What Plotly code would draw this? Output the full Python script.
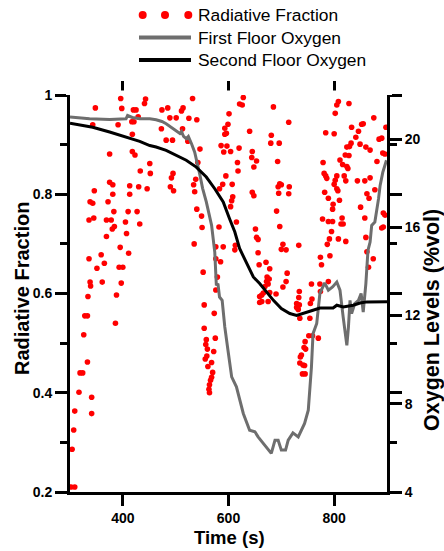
import plotly.graph_objects as go

# ---- data -------------------------------------------------------------
# Radiative fraction samples (time in s, fraction)
rf_time = [
    396, 443, 441, 532, 348, 398, 420, 425, 474, 485, 514, 511, 429, 489, 501, 525, 540, 417, 421, 391,
    343, 473, 513, 482, 494, 523, 546, 418, 423, 375, 451, 542, 433, 452, 495, 492, 375, 381, 413, 430,
    538, 534, 490, 496, 446, 346, 381, 413, 536, 338, 343, 372, 427, 410, 383, 540, 345, 336, 369, 378,
    405, 432, 550, 380, 384, 407, 369, 395, 535, 411, 359, 336, 365, 351, 393, 400, 552, 338, 361, 397,
    339, 334, 388, 554, 328, 333, 386, 573, 554, 326, 558, 557, 560, 575, 572, 559, 556, 568, 561, 333,
    319, 324, 570, 568, 566, 564, 563, 564, 317, 341, 341, 309, 307, 304, 302, 309, 628, 621, 626, 685,
    808, 805, 828, 802, 601, 875, 714, 599, 593, 855, 852, 833, 640, 596, 593, 784, 800, 846, 681, 841,
    885, 680, 696, 832, 829, 824, 849, 860, 868, 586, 597, 620, 591, 604, 645, 644, 653, 648, 821, 828,
    811, 816, 881, 779, 617, 693, 824, 826, 618, 595, 781, 784, 805, 819, 868, 786, 802, 822, 844, 858,
    800, 697, 700, 694, 715, 695, 714, 645, 648, 589, 607, 583, 782, 805, 807, 877, 862, 866, 608, 606,
    789, 810, 604, 798, 797, 850, 691, 549, 778, 789, 797, 815, 858, 615, 813, 817, 582, 651, 697, 795,
    653, 656, 791, 808, 822, 860, 576, 590, 613, 612, 733, 703, 787, 700, 709, 656, 792, 774, 874, 576,
    585, 658, 671, 776, 678, 865, 579, 673, 677, 711, 709, 789, 757, 773, 576, 672, 675, 669, 703, 666,
    663, 659, 678, 690, 734, 774, 663, 659, 675, 733, 758, 729, 734, 755, 729, 732, 735, 754, 752, 759,
    770, 745, 743, 746, 738, 736, 735, 741, 744, 740, 745, 898, 890, 892, 896, 893, 896, 890, 893, 862,
    418,
]
rf_value = [
    0.993, 0.992, 0.983, 0.993, 0.974, 0.973, 0.970, 0.970, 0.970, 0.974, 0.974, 0.968, 0.956, 0.954, 0.954, 0.953, 0.950, 0.946, 0.946, 0.940,
    0.940, 0.932, 0.932, 0.909, 0.909, 0.907, 0.891, 0.886, 0.879, 0.881, 0.862, 0.864, 0.847, 0.842, 0.842, 0.833, 0.824, 0.819, 0.817, 0.815,
    0.830, 0.819, 0.815, 0.807, 0.811, 0.807, 0.800, 0.800, 0.805, 0.785, 0.782, 0.785, 0.765, 0.765, 0.765, 0.770, 0.752, 0.748, 0.748, 0.748,
    0.744, 0.740, 0.733, 0.730, 0.735, 0.721, 0.715, 0.693, 0.700, 0.681, 0.678, 0.670, 0.661, 0.651, 0.653, 0.653, 0.643, 0.623, 0.623, 0.621,
    0.615, 0.594, 0.597, 0.577, 0.555, 0.555, 0.540, 0.560, 0.530, 0.517, 0.507, 0.497, 0.488, 0.510, 0.483, 0.474, 0.468, 0.461, 0.453, 0.462,
    0.440, 0.440, 0.441, 0.431, 0.425, 0.416, 0.407, 0.400, 0.401, 0.391, 0.358, 0.363, 0.325, 0.286, 0.210, 0.210, 0.995, 0.982, 0.980, 0.976,
    0.987, 0.980, 0.983, 0.963, 0.962, 0.954, 0.945, 0.941, 0.933, 0.942, 0.941, 0.935, 0.927, 0.923, 0.921, 0.924, 0.922, 0.927, 0.919, 0.915,
    0.911, 0.903, 0.903, 0.903, 0.896, 0.895, 0.901, 0.895, 0.889, 0.898, 0.897, 0.893, 0.885, 0.886, 0.886, 0.874, 0.867, 0.855, 0.879, 0.878,
    0.869, 0.860, 0.866, 0.864, 0.864, 0.866, 0.856, 0.852, 0.847, 0.837, 0.842, 0.837, 0.837, 0.837, 0.833, 0.832, 0.828, 0.827, 0.827, 0.827,
    0.820, 0.821, 0.819, 0.815, 0.815, 0.802, 0.801, 0.804, 0.797, 0.820, 0.820, 0.811, 0.804, 0.811, 0.807, 0.809, 0.801, 0.792, 0.795, 0.787,
    0.792, 0.788, 0.775, 0.780, 0.770, 0.774, 0.766, 0.756, 0.750, 0.745, 0.745, 0.752, 0.752, 0.744, 0.740, 0.740, 0.734, 0.730, 0.735, 0.725,
    0.713, 0.709, 0.710, 0.710, 0.705, 0.713, 0.694, 0.694, 0.697, 0.688, 0.697, 0.699, 0.699, 0.689, 0.688, 0.682, 0.676, 0.673, 0.670, 0.670,
    0.664, 0.658, 0.663, 0.658, 0.650, 0.653, 0.633, 0.633, 0.629, 0.641, 0.624, 0.624, 0.619, 0.619, 0.607, 0.624, 0.619, 0.614, 0.613, 0.601,
    0.597, 0.594, 0.602, 0.599, 0.604, 0.604, 0.584, 0.582, 0.584, 0.592, 0.589, 0.580, 0.577, 0.580, 0.572, 0.568, 0.550, 0.550, 0.515, 0.515,
    0.510, 0.503, 0.491, 0.488, 0.476, 0.472, 0.460, 0.456, 0.455, 0.438, 0.438, 0.935, 0.913, 0.883, 0.881, 0.762, 0.758, 0.732, 0.734, 0.684,
    0.921,
]

# First floor oxygen (%vol)
o2_first_time = [
    300, 337, 375, 406, 409, 418, 432, 451, 463, 474, 482, 492, 501, 508, 511, 515, 520, 524, 530, 536,
    546, 551, 558, 568, 574, 577, 580, 583, 588, 593, 599, 606, 615, 628, 640, 650, 656, 672, 681, 688,
    694, 700, 708, 713, 722, 732, 744, 751, 757, 760, 767, 773, 782, 789, 797, 805, 811, 817, 824, 827,
    830, 833, 839, 846, 851, 855, 860, 864, 868, 871, 877, 884, 887, 892, 899,
]
o2_first = [
    21.00, 20.92, 20.89, 20.92, 21.07, 20.98, 20.92, 20.92, 20.88, 20.80, 20.70, 20.53, 20.39, 20.26, 20.35, 20.12, 20.02, 20.12, 19.79, 19.41,
    18.36, 17.77, 17.15, 16.09, 14.88, 13.37, 13.45, 12.84, 12.69, 11.48, 10.43, 9.22, 8.77, 7.56, 6.80, 6.73, 6.50, 6.05, 5.75, 6.35,
    6.35, 5.90, 5.90, 6.35, 6.68, 6.50, 7.11, 7.71, 9.67, 11.18, 11.64, 13.00, 13.48, 13.15, 13.30, 13.52, 13.15, 11.94, 10.65, 11.48,
    12.69, 12.09, 12.54, 12.69, 13.00, 12.16, 13.45, 14.96, 15.33, 16.09, 16.24, 17.30, 17.90, 18.49, 19.04,
]

# Second floor oxygen (%vol)
o2_second_time = [
    300, 318, 343, 375, 407, 432, 451, 463, 482, 501, 520, 539, 558, 574, 590, 602, 612, 621, 634, 647,
    659, 672, 685, 700, 716, 729, 741, 760, 773, 798, 805, 817, 836, 849, 862, 887, 900,
]
o2_second = [
    20.72, 20.64, 20.54, 20.32, 20.09, 19.90, 19.71, 19.64, 19.49, 19.26, 19.04, 18.73, 18.28, 17.75, 17.15, 16.39, 15.79, 15.04, 14.43, 13.75,
    13.45, 13.07, 12.69, 12.32, 12.09, 12.01, 12.09, 12.24, 12.34, 12.34, 12.47, 12.39, 12.47, 12.57, 12.62, 12.62, 12.63,
]

# axis ranges and tick spacing
time_range, time_step = [300, 900], 200
rf_range, rf_step, rf_minor_step = [0.2, 1.0], 0.2, 0.1
o2_range, o2_step = [4, 22], 4

# ---- styling ------------------------------------------------------------
FONT = "Arial, Liberation Sans, sans-serif"
RED = "#ff0000"
GREY = "#6e6e6e"
BLACK = "#000000"

FIG_W, FIG_H = 444, 551
ML, MR, MT, MB = 70, 57, 95, 59
PW = FIG_W - ML - MR
PH = FIG_H - MT - MB


def fx(px):
    """pixel column -> paper x"""
    return (px - ML) / PW


def fy(py):
    """pixel row -> paper y"""
    return (FIG_H - MB - py) / PH


fig = go.Figure()

fig.add_trace(go.Scatter(
    x=rf_time, y=rf_value, mode="markers", name="Radiative Fraction",
    marker=dict(color=RED, size=5.6, line=dict(width=0)),
    xaxis="x", yaxis="y", showlegend=False,
))
fig.add_trace(go.Scatter(
    x=o2_first_time, y=o2_first, mode="lines", name="First Floor Oxygen",
    line=dict(color=GREY, width=3), xaxis="x", yaxis="y2", showlegend=False,
))
fig.add_trace(go.Scatter(
    x=o2_second_time, y=o2_second, mode="lines", name="Second Floor Oxygen",
    line=dict(color=BLACK, width=3), xaxis="x", yaxis="y2", showlegend=False,
))

tickfont = dict(family=FONT, size=14, color=BLACK, weight="bold")
axis_common = dict(
    showline=True, linewidth=3, linecolor=BLACK, ticks="outside", tickwidth=3,
    tickcolor=BLACK, showgrid=False, zeroline=False, tickfont=tickfont,
    tickmode="linear", tick0=0, automargin=False,
)

fig.update_layout(
    width=FIG_W, height=FIG_H,
    margin=dict(l=ML, r=MR, t=MT, b=MB, pad=0),
    paper_bgcolor="white", plot_bgcolor="white",
    showlegend=False,
    # lines drawn on every subplot so the bottom and left spines are always rendered
    xaxis=dict(range=time_range, dtick=time_step, ticklen=11, mirror="all", **axis_common),
    yaxis=dict(range=rf_range, dtick=rf_step, ticklen=12, mirror="all",
               minor=dict(dtick=rf_minor_step, ticks="outside", ticklen=7, tickwidth=3,
                          tickcolor=BLACK, showgrid=False),
               **axis_common),
    yaxis2=dict(range=o2_range, dtick=o2_step, ticklen=12, overlaying="y", side="right",
                **axis_common),
)

# the frame is open at the top: mask the mirrored top spine
fig.add_shape(type="rect", xref="paper", yref="paper", layer="above",
              x0=fx(66), x1=fx(392), y0=fy(95), y1=fy(90.5),
              fillcolor="white", line=dict(width=0))

# axis titles
title_font = dict(family=FONT, color=BLACK, weight="bold")
fig.add_annotation(text="Time (s)", xref="paper", yref="paper", x=fx(229), y=fy(537),
                   showarrow=False, xanchor="center", yanchor="middle",
                   font=dict(size=18.5, **title_font))
fig.add_annotation(text="Radiative Fraction", xref="paper", yref="paper", x=fx(22), y=fy(289),
                   showarrow=False, xanchor="center", yanchor="middle", textangle=-90,
                   font=dict(size=20, **title_font))
fig.add_annotation(text="Oxygen Levels (%vol)", xref="paper", yref="paper", x=fx(432), y=fy(320),
                   showarrow=False, xanchor="center", yanchor="middle", textangle=-90,
                   font=dict(size=21.5, **title_font))

# legend block at the top
legend_font = dict(family=FONT, size=17.4, color=BLACK)
for cx in (142.7, 165.0, 188.3):
    fig.add_shape(type="circle", xref="paper", yref="paper",
                  x0=fx(cx - 4), x1=fx(cx + 4), y0=fy(15 + 4), y1=fy(15 - 4),
                  fillcolor=RED, line=dict(width=0))
fig.add_shape(type="line", xref="paper", yref="paper", x0=fx(139), x1=fx(191),
              y0=fy(37.5), y1=fy(37.5), line=dict(color=GREY, width=4))
fig.add_shape(type="line", xref="paper", yref="paper", x0=fx(139), x1=fx(191),
              y0=fy(60), y1=fy(60), line=dict(color=BLACK, width=4))
for label, row in (("Radiative Fraction", 15), ("First Floor Oxygen", 37.5), ("Second Floor Oxygen", 60)):
    fig.add_annotation(text=label, xref="paper", yref="paper", x=fx(196), y=fy(row),
                       showarrow=False, xanchor="left", yanchor="middle", font=legend_font)

fig.write_html("out.html")
